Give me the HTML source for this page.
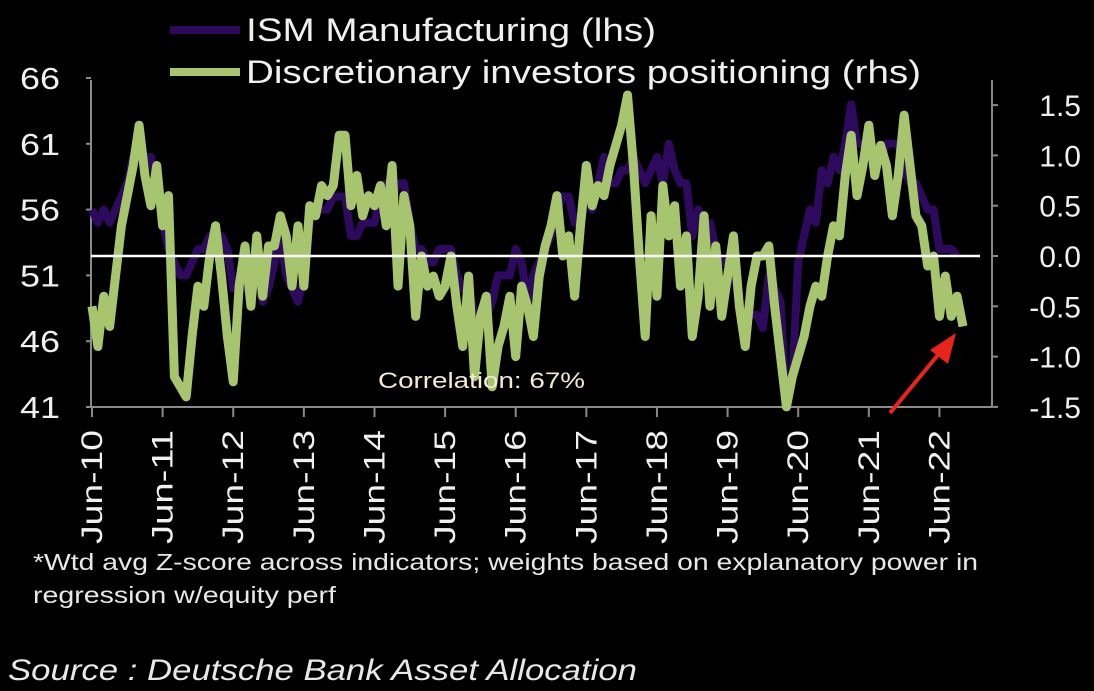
<!DOCTYPE html>
<html><head><meta charset="utf-8"><style>
html,body{margin:0;padding:0;background:#000;}
svg{display:block;font-family:"Liberation Sans",sans-serif;}
</style></head><body>
<svg id="chart" width="1094" height="691" viewBox="0 0 1094 691">
<rect width="1094" height="691" fill="#000"/>
<g id="legend">
 <line x1="170" y1="30" x2="240" y2="30" stroke="#2e0a5e" stroke-width="8"/>
 <text x="246" y="41" font-size="32" fill="#f0f0f0" textLength="410" lengthAdjust="spacingAndGlyphs">ISM Manufacturing (lhs)</text>
 <line x1="170" y1="72" x2="240" y2="72" stroke="#a6c56e" stroke-width="8"/>
 <text x="246" y="83" font-size="32" fill="#f0f0f0" textLength="675" lengthAdjust="spacingAndGlyphs">Discretionary investors positioning (rhs)</text>
</g>
<g id="axes"></g>
<g id="series"></g>
<text x="378" y="388" font-size="22" fill="#f3ead8" textLength="207" lengthAdjust="spacingAndGlyphs">Correlation: 67%</text>
<g>
 <line x1="890" y1="413" x2="942" y2="350" stroke="#e8251c" stroke-width="4"/>
 <polygon points="956,333 930,350 948,364" fill="#e8251c"/>
</g>
<text x="33" y="570" font-size="23" fill="#e8e8e8" textLength="945" lengthAdjust="spacingAndGlyphs">*Wtd avg Z-score across indicators; weights based on explanatory power in</text>
<text x="33" y="603" font-size="23" fill="#e8e8e8" textLength="303" lengthAdjust="spacingAndGlyphs">regression w/equity perf</text>
<text x="8" y="680" font-size="30" font-style="italic" fill="#e8e8e8" textLength="629" lengthAdjust="spacingAndGlyphs">Source : Deutsche Bank Asset Allocation</text>
</svg>
<script>
// x categories: months from Jun-10
const xTickLabels = ["Jun-10","Jun-11","Jun-12","Jun-13","Jun-14","Jun-15","Jun-16","Jun-17","Jun-18","Jun-19","Jun-20","Jun-21","Jun-22"];
const leftTicks = [66,61,56,51,46,41];
const rightTicks = ["1.5","1.0","0.5","0.0","-0.5","-1.0","-1.5"];
// ISM monthly starting Jun-10
const ismValues = [56,55,56,55,56,57,58,
 60,61,60,60,58,55,53,52,51,51,52,53,
 53,54,53,54,53,50,50,50,51,51,49,50,
 52,54,51,50,49,51,55,56,56,56,57,57,
 57,54,54,55,55,55,57,58,57,58,58,55,
 53,53,52,52,53,53,53,51,50,50,48,48,
 48,49,51,51,51,53,52,49,51,52,53,54,
 56,57,57,55,55,57,56,58,60,58,58,59,
 59,60,59,58,59,60,58,61,59,58,58,54,
 56,54,55,53,52,52,51,49,48,48,48,47,
 51,50,49,41,43,52,54,56,55,59,58,60,
 59,61,64,61,61,61,60,60,61,61,61,59,
 58,58,57,56,56,53,53,53,52.5];
// Positioning z-score monthly starting Jun-10
const posValues = [-0.5,-0.9,-0.4,-0.7,-0.2,0.3,0.6,
 0.9,1.3,0.8,0.5,0.9,0.3,0.6,-1.2,-1.3,-1.4,-0.8,-0.3,
 -0.5,0.0,0.3,-0.2,-0.8,-1.25,-0.3,0.1,-0.5,0.2,-0.4,0.1,
 0.1,0.4,0.2,-0.3,0.3,-0.3,0.5,0.4,0.7,0.6,0.7,1.2,
 1.2,0.5,0.8,0.4,0.6,0.5,0.7,0.3,0.9,-0.3,0.6,0.3,
 -0.6,0.0,-0.3,-0.2,-0.4,-0.3,0.0,-0.5,-0.9,-0.2,-1.2,-0.6,
 -0.4,-1.3,-0.9,-0.7,-0.4,-1.0,-0.3,-0.5,-0.8,-0.2,0.1,0.3,
 0.6,0.0,0.2,-0.4,0.3,0.9,0.5,0.7,0.6,0.9,1.1,1.3,
 1.6,0.9,0.0,-0.8,0.4,-0.4,0.7,0.2,0.5,-0.3,0.2,-0.8,
 -0.4,0.4,-0.5,0.1,-0.6,-0.2,0.2,-0.5,-0.9,-0.3,0.0,0.0,
 0.1,-0.5,-1.0,-1.5,-1.2,-1.0,-0.8,-0.5,-0.3,-0.4,0.0,0.3,
 0.2,0.8,1.2,0.6,0.9,1.3,0.8,1.1,0.9,0.4,0.8,1.4,
 0.9,0.4,0.3,-0.1,0.0,-0.6,-0.2,-0.6,-0.4,-0.7];

const NS="http://www.w3.org/2000/svg";
const xOf = m => 92 + m*5.885;
const yL = v => 407 - (v-41)*13.16;
const yR = v => 256 - v*100.6;
function mk(tag, attrs, parent){const e=document.createElementNS(NS,tag);for(const k in attrs)e.setAttribute(k,attrs[k]);parent.appendChild(e);return e;}
const axes=document.getElementById('axes'), series=document.getElementById('series');
const ax="#8a8a8a";
let e;
e=mk('line',{x1:91,y1:80,x2:91,y2:407,stroke:ax,'stroke-width':2},axes);


e=mk('line',{x1:91,y1:407,x2:992,y2:407,stroke:ax,'stroke-width':2},axes);


e=mk('line',{x1:992,y1:80,x2:992,y2:407,stroke:ax,'stroke-width':2},axes);


leftTicks.forEach(v=>{
  mk('line',{x1:86,y1:yL(v),x2:91,y2:yL(v),stroke:ax,'stroke-width':2},axes);
  e=mk('text',{x:20,y:yL(v)+11,'font-size':31,fill:'#f0f0f0',textLength:40,lengthAdjust:'spacingAndGlyphs'},axes);
  e.textContent=v;
  
  
});
rightTicks.forEach(s=>{
  const v=parseFloat(s);
  mk('line',{x1:992,y1:yR(v),x2:998,y2:yR(v),stroke:ax,'stroke-width':2},axes);
  e=mk('text',{x:1081,y:yR(v)+11,'font-size':30,fill:'#f0f0f0','text-anchor':'end'},axes);
  e.textContent=s;
  
  
});
xTickLabels.forEach((s,i)=>{
  const x=xOf(i*12);
  mk('line',{x1:x,y1:407,x2:x,y2:417,stroke:ax,'stroke-width':2},axes);
  e=mk('text',{x:0,y:0,'font-size':30,fill:'#f0f0f0','text-anchor':'end',textLength:114,lengthAdjust:'spacingAndGlyphs',transform:`translate(${x+10},430) rotate(-90)`},axes);
  e.textContent=s;
  
  
});
e=mk('polyline',{points:ismValues.map((v,i)=>xOf(i)+','+yL(v)).join(' '),fill:'none',stroke:'#2e0a5e','stroke-width':8,'stroke-linejoin':'round'},series);


e=mk('polyline',{points:posValues.map((v,i)=>xOf(i)+','+yR(v)).join(' '),fill:'none',stroke:'#a6c56e','stroke-width':9,'stroke-linejoin':'round'},series);


e=mk('line',{x1:91,y1:yR(0),x2:980,y2:yR(0),stroke:'#ffffff','stroke-width':2.5},series);


</script>
</body></html>
